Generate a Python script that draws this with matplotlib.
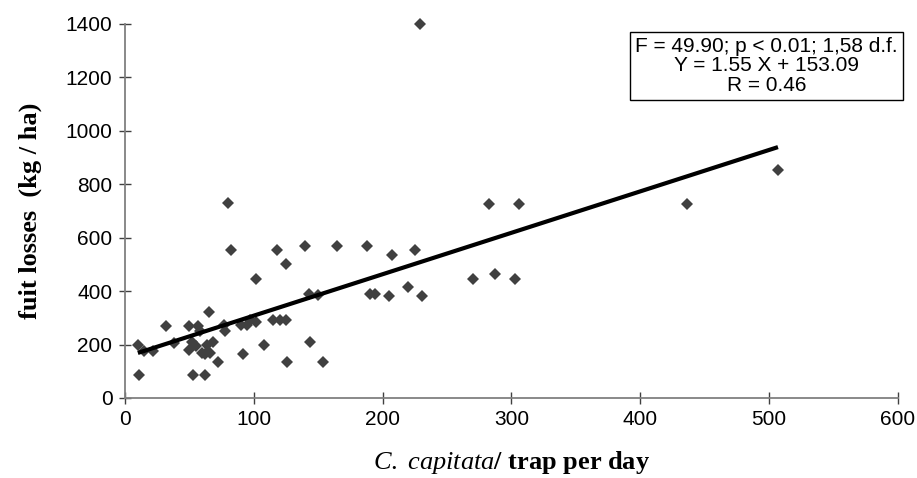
import numpy as np
import matplotlib
matplotlib.use("Agg")
import matplotlib.pyplot as plt

matplotlib.rcParams["mathtext.fontset"] = "custom"
matplotlib.rcParams["mathtext.it"] = "Liberation Serif:italic"
matplotlib.rcParams["mathtext.rm"] = "Liberation Serif"

# data
trap_catch = [10, 11, 15, 22, 32, 38, 50, 50, 52, 53, 55, 57, 58, 60, 62, 62, 64, 65, 66, 68,
              72, 77, 78, 80, 82, 90, 92, 95, 97, 102, 102, 108, 115, 118, 120, 125, 125, 126,
              140, 143, 144, 150, 154, 165, 188, 190, 194, 205, 207, 220, 225, 229, 231, 270,
              283, 287, 303, 306, 436, 507]
fruit_loss = [200, 85, 175, 175, 270, 205, 270, 180, 210, 85, 195, 270, 250, 170, 165, 85, 200,
              320, 170, 210, 135, 275, 250, 730, 555, 275, 165, 275, 290, 445, 285, 200, 290,
              555, 290, 500, 290, 135, 570, 390, 210, 385, 135, 570, 570, 390, 390, 380, 535,
              415, 555, 1400, 380, 445, 725, 465, 445, 725, 725, 855]

slope = 1.55
intercept = 153.09
stats_text = "F = 49.90; p < 0.01; 1,58 d.f.\nY = 1.55 X + 153.09\nR = 0.46"

fig = plt.figure(figsize=(9.17, 4.78), dpi=100)
ax = fig.add_axes([0.1363, 0.1674, 0.8427, 0.7826])

ax.plot(trap_catch, fruit_loss, linestyle="none", marker="D", markersize=6.5,
        color="#404040", markeredgewidth=0, clip_on=False)

xs = np.array([min(trap_catch), max(trap_catch)])
ax.plot(xs, slope * xs + intercept, color="black", linewidth=3, solid_capstyle="butt")

ax.set_xlim(0, 600)
ax.set_ylim(0, 1400)
ax.set_xticks(range(0, 601, 100))
ax.set_yticks(range(0, 1401, 200))

for side in ["top", "right"]:
    ax.spines[side].set_visible(False)
for side in ["left", "bottom"]:
    ax.spines[side].set_color("#808080")
    ax.spines[side].set_linewidth(1.3)
ax.tick_params(direction="inout", length=8, width=1, color="#404040",
               labelsize=15, pad=5)
for lab in ax.get_xticklabels() + ax.get_yticklabels():
    lab.set_family("Liberation Sans")

ax.set_ylabel("fuit losses  (kg / ha)", family="Liberation Serif", fontweight="bold",
              fontsize=19, labelpad=17)
ax.set_xlabel(r"$\mathit{C.\ capitata}$/ trap per day", family="Liberation Serif",
              fontweight="bold", fontsize=19, labelpad=14)

fig.text(0.8358, 0.862, stats_text, ha="center", va="center", fontsize=15,
         family="Liberation Sans", linespacing=1.05,
         bbox=dict(boxstyle="square,pad=0.25", facecolor="white", edgecolor="black",
                   linewidth=1))

fig.savefig("out.png", dpi=100)
